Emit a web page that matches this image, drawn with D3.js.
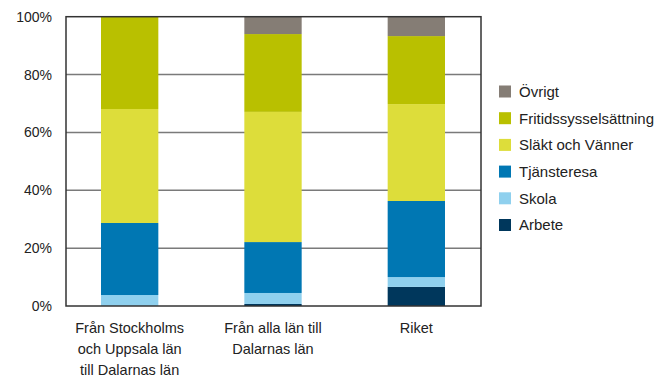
<!DOCTYPE html>
<html>
<head>
<meta charset="utf-8">
<script src="https://cdn.jsdelivr.net/npm/d3@7/dist/d3.min.js"></script>
<style>
  html, body { margin: 0; padding: 0; background: #fff; }
  svg { display: block; font-family: "Liberation Sans", Arial, sans-serif; }
</style>
</head>
<body>
<svg id="chart" width="659" height="378"></svg>
<script>
// Reason for travel, share of trips per region (percent)
const categories = [
  ["Från Stockholms", "och Uppsala län", "till Dalarnas län"],
  ["Från alla län till", "Dalarnas län"],
  ["Riket"]
];
const seriesNames = ["Arbete", "Skola", "Tjänsteresa", "Släkt och Vänner", "Fritidssysselsättning", "Övrigt"];
const arbete      = [0.0, 0.7, 6.6];
const skola       = [3.8, 3.8, 3.4];
const tjansteresa = [24.9, 17.6, 26.3];
const slakt       = [39.4, 45.0, 33.5];
const fritid      = [31.9, 26.9, 23.5];
const ovrigt      = [0.0, 6.0, 6.7];
const yTicks = [0, 20, 40, 60, 80, 100];

const colors = ["#00375c", "#8fd0ee", "#0077b3", "#dddd3a", "#b9c000", "#857d75"];

const values = [arbete, skola, tjansteresa, slakt, fritid, ovrigt];
const rows = categories.map((c, i) => {
  const r = { key: i };
  seriesNames.forEach((s, j) => { r[s] = values[j][i]; });
  return r;
});

const svg = d3.select("#chart");
const plot = { left: 66, right: 481, top: 16.7, bottom: 306 };

const x = d3.scaleBand()
  .domain(categories.map((c, i) => i))
  .range([58, 488])
  .paddingInner(0.6)
  .paddingOuter(0.3);

const y = d3.scaleLinear().domain([0, 100]).range([plot.bottom, plot.top]);

// gridlines
svg.append("g")
  .selectAll("line")
  .data(yTicks.filter(t => t > 0 && t < 100))
  .join("line")
  .attr("x1", plot.left).attr("x2", plot.right)
  .attr("y1", d => y(d)).attr("y2", d => y(d))
  .attr("stroke", "#7a7a7a").attr("stroke-width", 1.5);

// stacked bars
const stack = d3.stack().keys(seriesNames)(rows);
svg.append("g")
  .selectAll("g")
  .data(stack)
  .join("g")
  .attr("fill", (d, i) => colors[i])
  .selectAll("rect")
  .data(d => d)
  .join("rect")
  .attr("x", (d, i) => x(i))
  .attr("width", x.bandwidth())
  .attr("y", d => y(d[1]))
  .attr("height", d => Math.max(0, y(d[0]) - y(d[1])));

// plot frame
svg.append("rect")
  .attr("x", plot.left).attr("y", plot.top)
  .attr("width", plot.right - plot.left).attr("height", plot.bottom - plot.top)
  .attr("fill", "none").attr("stroke", "#333").attr("stroke-width", 1.5);

// y axis
const yAxis = d3.axisLeft(y).tickValues(yTicks).tickFormat(d => d + "%").tickSize(0).tickPadding(14);
const ya = svg.append("g").attr("transform", `translate(${plot.left},0)`).call(yAxis);
ya.select(".domain").remove();
ya.selectAll("text").attr("font-size", 14).attr("fill", "#222")
  .attr("font-family", "Liberation Sans, Arial, sans-serif");

// x labels
const xl = svg.append("g");
categories.forEach((lines, i) => {
  const t = xl.append("text")
    .attr("x", x(i) + x.bandwidth() / 2)
    .attr("y", 333)
    .attr("text-anchor", "middle")
    .attr("font-size", 14.5)
    .attr("fill", "#222");
  lines.forEach((ln, k) => {
    t.append("tspan").attr("x", x(i) + x.bandwidth() / 2).attr("dy", k === 0 ? 0 : 21).text(ln);
  });
});

// legend (top entry is the top of the stack)
const legendOrder = seriesNames.map((s, i) => ({ name: s, color: colors[i] })).reverse();
const lg = svg.append("g").attr("transform", "translate(499,91.5)");
const item = lg.selectAll("g").data(legendOrder).join("g")
  .attr("transform", (d, i) => `translate(0,${i * 26.7})`);
item.append("rect").attr("x", 0).attr("y", -6).attr("width", 12).attr("height", 12)
  .attr("fill", d => d.color);
item.append("text").attr("x", 20).attr("y", 0).attr("dy", "0.36em")
  .attr("font-size", 15).attr("fill", "#222").text(d => d.name);
</script>
</body>
</html>
